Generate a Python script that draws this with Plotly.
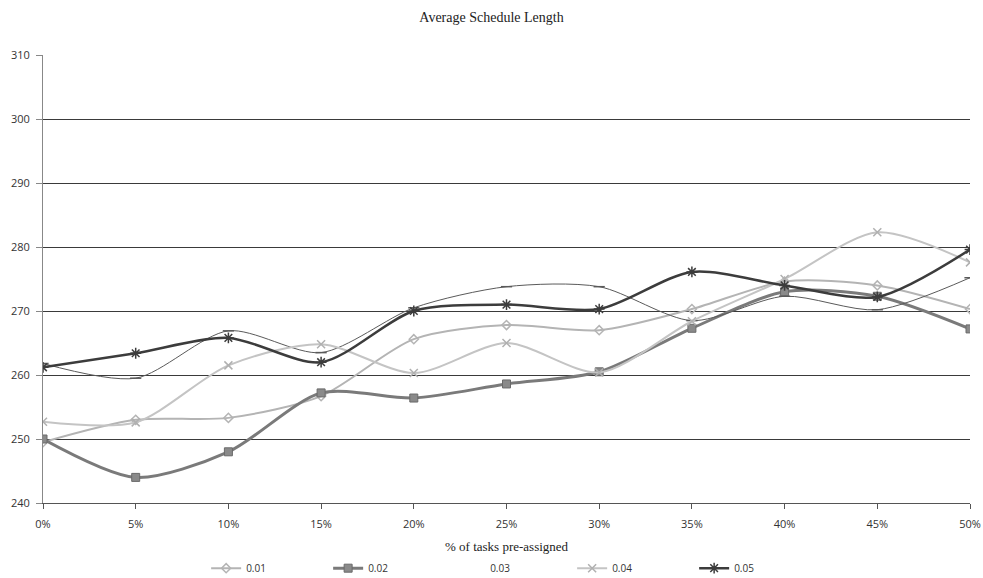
import plotly.graph_objects as go

x_pct = [0, 5, 10, 15, 20, 25, 30, 35, 40, 45, 50]
x_labels = ["0%", "5%", "10%", "15%", "20%", "25%", "30%", "35%", "40%", "45%", "50%"]

s001 = [249.5, 253.0, 253.3, 256.7, 265.6, 267.8, 267.0, 270.3, 274.6, 274.0, 270.3]
s002 = [250.0, 244.0, 248.0, 257.2, 256.4, 258.6, 260.5, 267.3, 273.0, 272.3, 267.2]
s003 = [261.8, 259.5, 266.9, 263.5, 270.5, 273.8, 273.8, 268.5, 272.3, 270.2, 275.2]
s004 = [252.7, 252.6, 261.5, 264.8, 260.3, 265.0, 260.4, 268.4, 275.0, 282.3, 277.6]
s005 = [261.2, 263.4, 265.8, 262.0, 270.0, 271.0, 270.3, 276.1, 274.0, 272.2, 279.6]

y_ticks = [240, 250, 260, 270, 280, 290, 300, 310]

series = [
    ("0.01", s001, dict(color="#b4b4b4", width=2), dict(symbol="diamond-open", size=7, color="#b4b4b4", line=dict(width=1.5, color="#b4b4b4"))),
    ("0.02", s002, dict(color="#7a7a7a", width=3), dict(symbol="square", size=8, color="#8a8a8a", line=dict(width=1, color="#6a6a6a"))),
    ("0.03", s003, dict(color="#5a5a5a", width=1), dict(symbol="line-ew-open", size=8, color="#5a5a5a", line=dict(width=1.5, color="#5a5a5a"))),
    ("0.04", s004, dict(color="#c4c4c4", width=2), dict(symbol="x-thin-open", size=8, color="#b0b0b0", line=dict(width=1.5, color="#b0b0b0"))),
    ("0.05", s005, dict(color="#3c3c3c", width=2.5), dict(symbol="asterisk-open", size=9, color="#3c3c3c", line=dict(width=1.5, color="#3c3c3c"))),
]

fig = go.Figure()
for name, vals, ln, mk in series:
    if name == "0.03":
        fig.add_trace(go.Scatter(x=x_pct, y=vals, mode="lines+markers", name=name,
                                 line=dict(shape="spline", smoothing=0.8, **ln), marker=mk,
                                 showlegend=False, legendgroup=name))
        fig.add_trace(go.Scatter(x=[None], y=[None], mode="lines", name=name,
                                 line=dict(color="rgba(255,255,255,0)", width=1),
                                 legendgroup=name, showlegend=True))
    else:
        fig.add_trace(go.Scatter(x=x_pct, y=vals, mode="lines+markers", name=name,
                                 line=dict(shape="spline", smoothing=0.8, **ln), marker=mk))

fig.update_layout(
    width=983, height=578,
    margin=dict(l=43, r=13, t=55, b=75),
    paper_bgcolor="white", plot_bgcolor="white",
    title=dict(text="Average Schedule Length", x=0.5, xanchor="center", y=0.97, yanchor="middle",
               font=dict(family="Liberation Serif", size=14, color="#222")),
    xaxis=dict(
        range=[0, 50], tickmode="array", tickvals=x_pct, ticktext=x_labels,
        showgrid=False, zeroline=False, showline=True, linecolor="#555", linewidth=1,
        ticks="outside", ticklen=5, tickcolor="#555", ticklabelstandoff=6,
        tickfont=dict(family="Open Sans", size=11, color="#333"),
        automargin=False,
    ),
    yaxis=dict(
        range=[240, 310], tickmode="array", tickvals=y_ticks,
        showgrid=True, gridcolor="#3a3a3a", gridwidth=1, zeroline=False,
        showline=True, linecolor="#888", linewidth=1,
        ticks="outside", ticklen=6, tickcolor="#888", ticklabelstandoff=4,
        tickfont=dict(family="Open Sans", size=11, color="#333"),
        automargin=False,
    ),
    annotations=[dict(text="% of tasks pre-assigned", xref="paper", yref="paper",
                      x=0.5, y=-0.098, xanchor="center", yanchor="middle", showarrow=False,
                      font=dict(family="Liberation Serif", size=13, color="#222"))],
    legend=dict(orientation="h", x=0.505, xanchor="center", yref="container", y=0.017,
                yanchor="middle", entrywidth=77, entrywidthmode="pixels",
                font=dict(family="Open Sans", size=10, color="#333"), bgcolor="rgba(0,0,0,0)"),
)

fig.write_html("out.html")
